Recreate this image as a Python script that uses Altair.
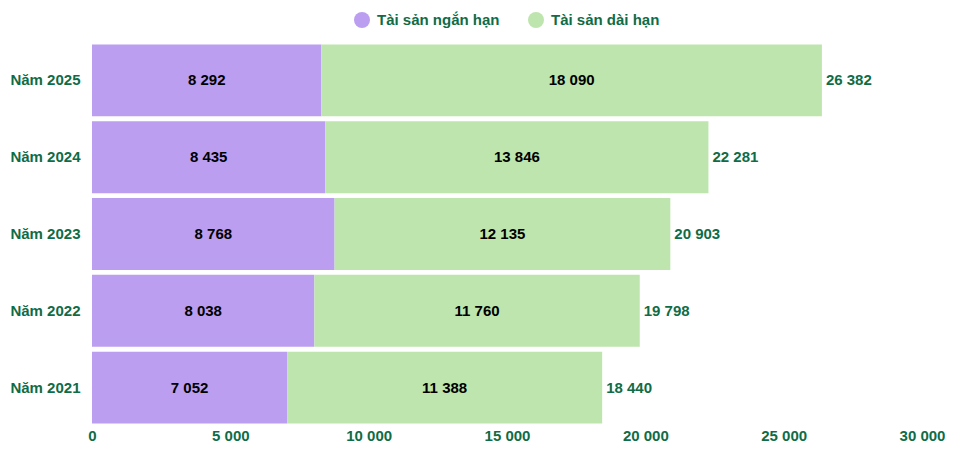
import altair as alt
import pandas as pd

years = ["Năm 2021", "Năm 2022", "Năm 2023", "Năm 2024", "Năm 2025"]
short_term = [7052, 8038, 8768, 8435, 8292]
long_term = [11388, 11760, 12135, 13846, 18090]
totals = [18440, 19798, 20903, 22281, 26382]
series = ["Tài sản ngắn hạn", "Tài sản dài hạn"]
colors = ["#bb9ef0", "#bee5ad"]
x_ticks = [0, 5000, 10000, 15000, 20000, 25000, 30000]

GREEN = "#0f6c46"
FONT = "Liberation Sans"


def fmt(v):
    return f"{v:,}".replace(",", " ")


rows = []
for i, y in enumerate(years):
    s, l = short_term[i], long_term[i]
    rows.append({"year": y, "series": series[0], "ord": 0, "start": 0, "end": s,
                 "mid": s / 2, "label": fmt(s)})
    rows.append({"year": y, "series": series[1], "ord": 1, "start": s, "end": s + l,
                 "mid": s + l / 2, "label": fmt(l)})
df = pd.DataFrame(rows)
df_tot = pd.DataFrame({"year": years, "total": totals, "label": [fmt(t) for t in totals]})

TOP = 34
LEFT = 84
y_enc = alt.Y(
    "year:N",
    sort=years[::-1],
    scale=alt.Scale(paddingInner=0.064, paddingOuter=0.032),
    axis=alt.Axis(title=None, domain=False, ticks=False, labelFontWeight="bold",
                  labelFontSize=15, labelColor=GREEN, labelPadding=12, labelFont=FONT),
)
x_scale = alt.Scale(domain=[0, 30000], nice=False)

bars = alt.Chart(df).mark_bar().encode(
    x=alt.X("start:Q", scale=x_scale,
            axis=alt.Axis(title=None, values=x_ticks, grid=False, domain=False, ticks=False,
                          labelFlush=False, labelPadding=2, labelFontSize=15,
                          labelFontWeight="bold", labelColor=GREEN, labelFont=FONT,
                          labelExpr="replace(format(datum.value, ','), ',', ' ')")),
    x2="end:Q",
    y=y_enc,
    color=alt.Color("series:N", scale=alt.Scale(domain=series, range=colors),
                    legend=alt.Legend(orient="none", legendX=354 - 8 - LEFT,
                                      legendY=4 - TOP,
                                      direction="horizontal", title=None,
                                      symbolType="circle", symbolSize=256,
                                      symbolStrokeWidth=0, labelFontSize=15,
                                      labelFontWeight="bold", labelColor=GREEN,
                                      labelFont=FONT, labelOffset=7, columnPadding=28,
                                      padding=0)),
    order="ord:Q",
)

seg_text = alt.Chart(df).mark_text(fontSize=15, fontWeight="bold", color="black",
                                   font=FONT).encode(
    x=alt.X("mid:Q", scale=x_scale),
    y=alt.Y("year:N", sort=years[::-1]),
    text="label:N",
)

tot_text = alt.Chart(df_tot).mark_text(fontSize=15, fontWeight="bold", color=GREEN,
                                       font=FONT, align="left", dx=4).encode(
    x=alt.X("total:Q", scale=x_scale),
    y=alt.Y("year:N", sort=years[::-1]),
    text="label:N",
)

chart = alt.layer(bars, seg_text, tot_text).properties(
    width=830,
    height=384,
    autosize=alt.AutoSizeParams(type="none"),
    padding={"left": LEFT, "top": TOP, "right": 23, "bottom": 18},
).configure(font=FONT).configure_view(strokeWidth=0, stroke="transparent")

chart.save("out.html", embed_options={"renderer": "svg", "actions": False})
